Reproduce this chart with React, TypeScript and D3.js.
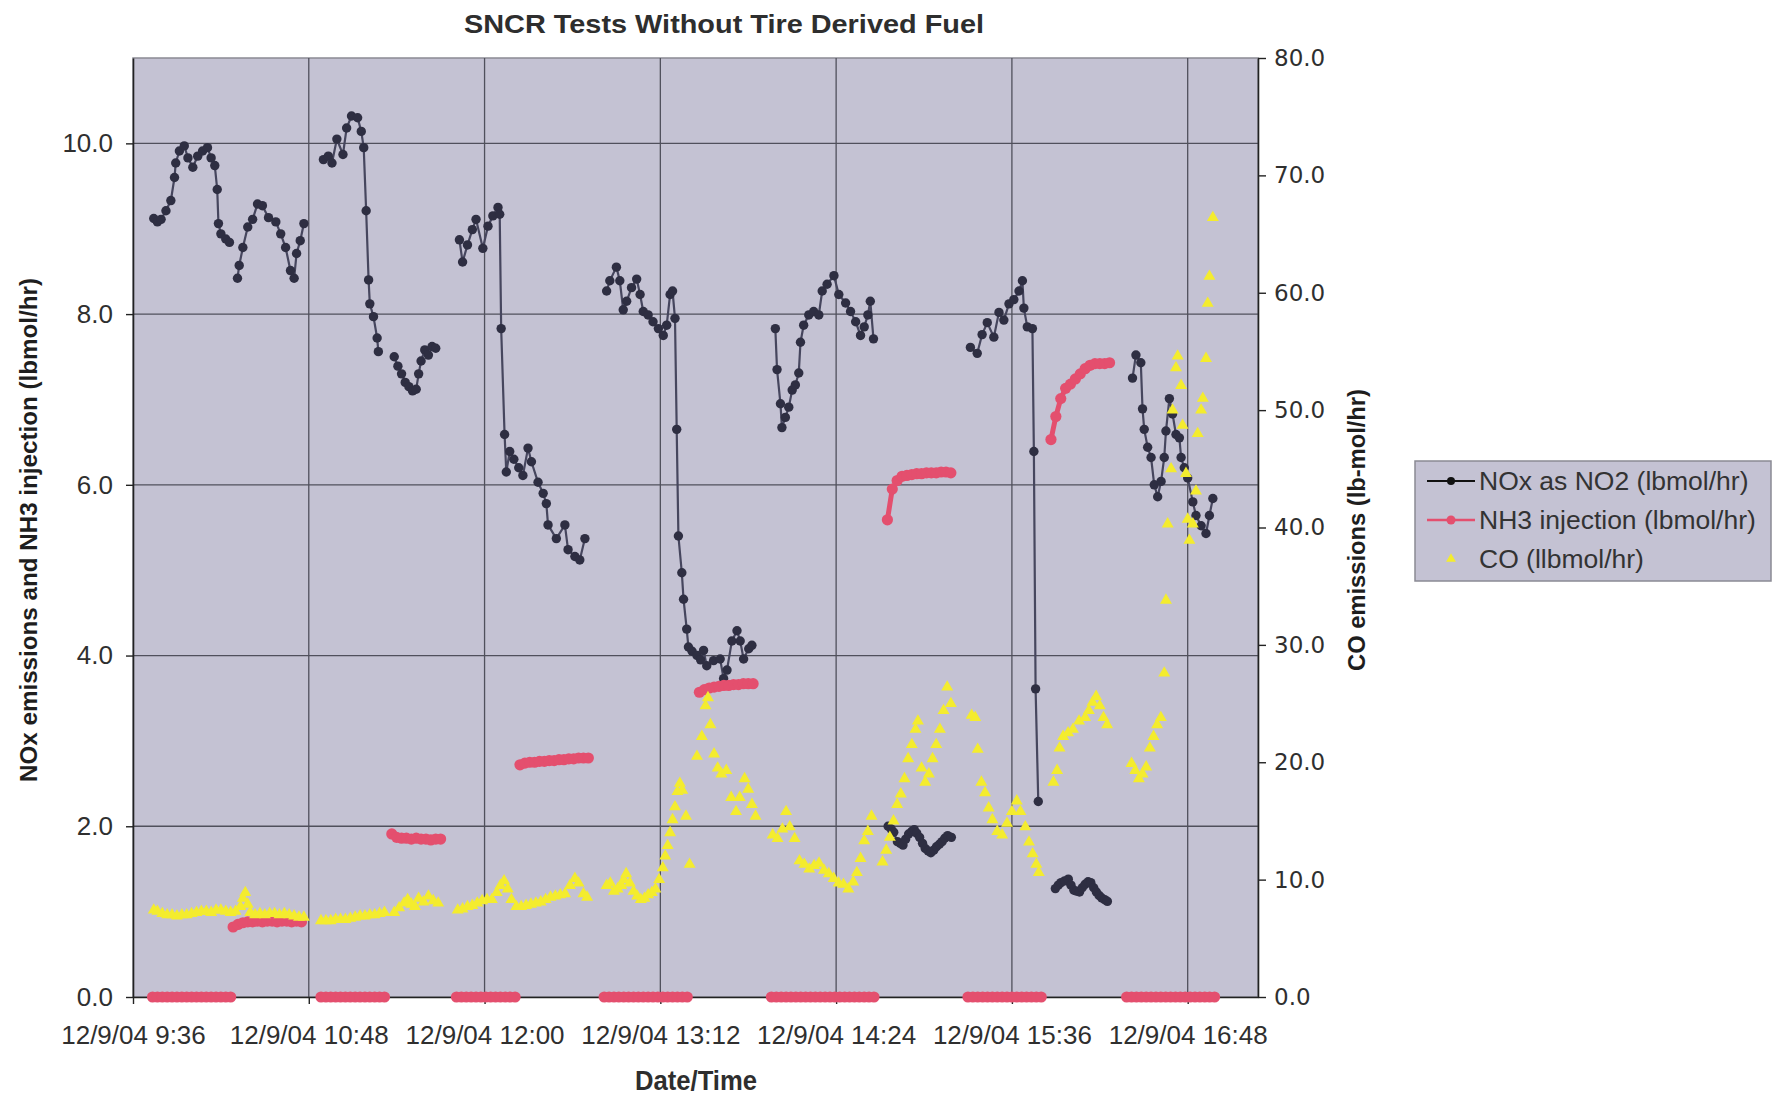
import React, { useEffect, useRef } from "react";
import * as d3 from "d3";

// time is in minutes after 12/9/04 9:36
const xTickMinutes = [0, 72, 144, 216, 288, 360, 432];
const xTickLabels = [
  "12/9/04 9:36",
  "12/9/04 10:48",
  "12/9/04 12:00",
  "12/9/04 13:12",
  "12/9/04 14:24",
  "12/9/04 15:36",
  "12/9/04 16:48",
];
const leftTicks = [0, 2, 4, 6, 8, 10];
const rightTicks = [0, 10, 20, 30, 40, 50, 60, 70, 80];

// NOx as NO2 (lbmol/hr), one array per continuous run
const nox1 = [[8.5, 9.12], [10, 9.08], [11.5, 9.11], [13.5, 9.21], [15.5, 9.33], [17, 9.6], [17.5, 9.77], [19, 9.91], [21, 9.97], [22.5, 9.83], [24.5, 9.72], [26.5, 9.85], [28.5, 9.91], [30.5, 9.95], [32, 9.83], [33.5, 9.74], [34.5, 9.46], [35, 9.06], [36, 8.94], [38, 8.88], [39.5, 8.84]];
const nox2 = [[42.8, 8.42], [43.5, 8.57], [45, 8.78], [47, 9.02], [49, 9.11], [51, 9.29], [53, 9.27], [55.5, 9.13], [58.5, 9.08], [60.5, 8.94], [62.5, 8.78], [64.5, 8.51], [66, 8.42], [67, 8.71], [68.5, 8.86], [70, 9.06]];
const nox3 = [[78, 9.81], [80, 9.85], [81.5, 9.77], [83.5, 10.05], [86, 9.87], [87.5, 10.18], [89.5, 10.32], [92, 10.3], [93.5, 10.14], [94.5, 9.95], [95.5, 9.21], [96.5, 8.4], [97, 8.12], [98.5, 7.97], [100, 7.72], [100.5, 7.56]];
const nox4 = [[107, 7.5], [108.5, 7.39], [110, 7.3], [111.5, 7.2], [113, 7.15], [114.5, 7.1], [116, 7.12], [117, 7.3], [118, 7.45], [119.5, 7.58], [121, 7.52], [122.5, 7.62], [124, 7.6]];
const nox5 = [[133.7, 8.87], [135, 8.61], [137, 8.81], [139, 8.99], [140.5, 9.11], [143.3, 8.77], [145.4, 9.03], [147.4, 9.15], [149.5, 9.25], [150.2, 9.17], [150.8, 7.83], [152.2, 6.59], [152.9, 6.15], [154.3, 6.39], [156, 6.3], [158, 6.2], [159.7, 6.11], [161.8, 6.43], [163.2, 6.27], [165.9, 6.03], [168, 5.9], [169.3, 5.78], [170, 5.53], [173.4, 5.37], [176.9, 5.53], [178.2, 5.24], [181, 5.16], [183, 5.12], [185.1, 5.37]];
const nox6 = [[194, 8.27], [195.3, 8.39], [198, 8.55], [199.4, 8.39], [200.8, 8.05], [202.2, 8.15], [204.2, 8.31], [206.3, 8.41], [207.7, 8.23], [209, 8.03], [211, 7.99], [213, 7.91], [215.2, 7.83], [217.2, 7.75], [218.6, 7.87], [220, 8.23], [221, 8.27], [222, 7.95], [222.7, 6.65], [223.4, 5.4], [224.8, 4.97], [225.5, 4.66], [226.8, 4.31], [227.5, 4.1], [229, 4.05], [231, 4.0], [232.5, 3.95], [233.7, 4.06], [235, 3.88], [237.8, 3.94], [240.5, 3.96], [241.9, 3.73], [243.3, 3.83], [245.3, 4.17], [247.4, 4.29], [248.7, 4.17], [250.1, 3.96], [252.2, 4.08], [253.5, 4.12]];
const nox7 = [[263.1, 7.83], [263.8, 7.35], [265.2, 6.95], [265.8, 6.67], [267.2, 6.79], [268.6, 6.91], [270, 7.11], [271.3, 7.17], [272.7, 7.31], [273.4, 7.67], [274.7, 7.87], [276.8, 7.99], [278.8, 8.03], [280.9, 7.99], [282.3, 8.27], [284.3, 8.35], [287.1, 8.45], [289.1, 8.23], [291.9, 8.13], [293.9, 8.03], [296, 7.91], [298, 7.75], [299.5, 7.85], [301, 7.99], [302, 8.15], [303.3, 7.71]];
const nox8 = [[309.3, 2.0], [310.5, 1.97], [311.6, 1.93], [313.1, 1.82], [314.3, 1.8], [315.4, 1.78], [316.5, 1.85], [317.7, 1.91], [319, 1.94], [320, 1.96], [321, 1.92], [322.2, 1.87], [323.4, 1.8], [324.5, 1.74], [325.7, 1.71], [326.8, 1.69], [328, 1.72], [329.1, 1.76], [330.3, 1.79], [331.4, 1.82], [332.5, 1.86], [333.7, 1.89], [335.2, 1.87]];
const nox9 = [[343, 7.61], [345.8, 7.54], [347.8, 7.76], [349.9, 7.9], [352.6, 7.73], [354.7, 8.02], [356.7, 7.93], [358.8, 8.12], [360.8, 8.17], [362.9, 8.27], [364.3, 8.39], [364.9, 8.07], [366.3, 7.85], [368.4, 7.83], [369, 6.39], [369.7, 3.61], [370.8, 2.29]];
const nox10 = [[377.8, 1.27], [379, 1.31], [380.1, 1.34], [381.6, 1.36], [383.1, 1.38], [384.2, 1.31], [385.4, 1.25], [386.5, 1.24], [387.7, 1.23], [388.8, 1.28], [390, 1.32], [391.2, 1.35], [392.3, 1.34], [393.5, 1.28], [394.6, 1.23], [395.7, 1.19], [396.8, 1.16], [398, 1.14], [399.1, 1.12]];
const nox11 = [[409.4, 7.25], [410.8, 7.52], [412.8, 7.43], [413.5, 6.89], [414.2, 6.65], [415.6, 6.44], [417, 6.32], [418.3, 6.0], [419.7, 5.86], [421.1, 6.04], [422.4, 6.32], [423.1, 6.63], [424.5, 7.01], [425.8, 6.83], [427.2, 6.59], [428.6, 6.55], [429.3, 6.32], [430.6, 6.2], [432, 6.08], [434.1, 5.8], [435.4, 5.64], [437.5, 5.52], [439.5, 5.43], [440.9, 5.64], [442.3, 5.84]];
const noxRuns = [nox1, nox2, nox3, nox4, nox5, nox6, nox7, nox8, nox9, nox10, nox11];

// NH3 injection (lbmol/hr): sampled every 2 minutes from each run's start
const nh3Starts = [8, 41, 77, 106, 132.5, 158.5, 193, 232, 261.5, 309, 342, 376, 407];
const nh3Values = [
  [0, 0, 0, 0, 0, 0, 0, 0, 0, 0, 0, 0, 0, 0, 0, 0, 0],
  [0.82, 0.85, 0.87, 0.88, 0.88, 0.89, 0.88, 0.89, 0.89, 0.88, 0.89, 0.89, 0.88, 0.89, 0.88],
  [0, 0, 0, 0, 0, 0, 0, 0, 0, 0, 0, 0, 0, 0],
  [1.91, 1.87, 1.86, 1.86, 1.85, 1.86, 1.85, 1.85, 1.84, 1.85, 1.85],
  [0, 0, 0, 0, 0, 0, 0, 0, 0, 0, 0, 0, 0],
  [2.72, 2.74, 2.75, 2.75, 2.76, 2.76, 2.77, 2.77, 2.78, 2.78, 2.79, 2.79, 2.8, 2.8, 2.8],
  [0, 0, 0, 0, 0, 0, 0, 0, 0, 0, 0, 0, 0, 0, 0, 0, 0, 0],
  [3.57, 3.6, 3.62, 3.63, 3.64, 3.65, 3.65, 3.66, 3.66, 3.67, 3.67, 3.67],
  [0, 0, 0, 0, 0, 0, 0, 0, 0, 0, 0, 0, 0, 0, 0, 0, 0, 0, 0, 0, 0, 0],
  [5.59, 5.95, 6.05, 6.1, 6.11, 6.12, 6.13, 6.13, 6.14, 6.14, 6.14, 6.15, 6.15, 6.14],
  [0, 0, 0, 0, 0, 0, 0, 0, 0, 0, 0, 0, 0, 0, 0, 0],
  [6.53, 6.8, 7.01, 7.13, 7.18, 7.24, 7.3, 7.36, 7.4, 7.42, 7.42, 7.42, 7.43],
  [0, 0, 0, 0, 0, 0, 0, 0, 0, 0, 0, 0, 0, 0, 0, 0, 0, 0, 0],
];
const NH3_STEP = 2;

// CO (lbmol/hr), right axis
const co1 = [[8.5, 7.4], [10, 7.3], [12, 7.1], [14, 7.0], [16, 7.0], [18, 6.9], [20, 7.0], [22, 7.0], [24, 7.1], [26, 7.2], [28, 7.3], [30, 7.3], [32, 7.2], [34, 7.4], [36, 7.4], [38, 7.3], [40, 7.2], [42, 7.3], [44, 7.7], [45, 8.4], [46, 8.9], [47, 7.9], [48, 7.2], [50, 7.0], [52, 7.1], [54, 7.0], [56, 7.1], [58, 7.1], [60, 7.0], [62, 7.1], [64, 7.0], [66, 6.9], [68, 6.8], [70, 6.8]];
const co2 = [[77, 6.5], [79, 6.5], [81, 6.5], [83, 6.6], [85, 6.6], [87, 6.6], [89, 6.7], [91, 6.8], [93, 6.9], [95, 6.9], [97, 7.0], [99, 7.0], [101, 7.1], [103, 7.2], [107, 7.2], [109, 7.6], [111, 8.0], [112.5, 8.3], [114, 7.9], [115.5, 7.7], [117, 8.4], [119, 8.1], [121, 8.6], [123, 8.2], [125, 8.0]];
const co3 = [[133, 7.4], [135, 7.5], [137, 7.7], [139, 7.8], [141, 8.0], [143, 8.2], [145, 8.3], [147, 8.3], [149, 8.9], [150.5, 9.5], [152, 9.9], [153.5, 9.2], [155, 8.3], [157, 7.7], [159, 7.7], [161, 7.8], [163, 7.9], [165, 8.0], [167, 8.1], [169, 8.3], [171, 8.5], [173, 8.6], [175, 8.7], [177, 8.8], [179, 9.5], [181, 10.1], [182.5, 9.7], [184.5, 8.8], [186, 8.5]];
const co4 = [[194, 9.5], [195.5, 9.7], [197, 9.0], [198.5, 9.2], [200, 9.5], [201, 10.0], [202, 10.5], [203.5, 9.7], [205, 9.0], [206.5, 8.6], [208, 8.3], [209.5, 8.4], [211, 8.7], [212.5, 8.9], [214, 9.2], [215.5, 10.0], [217, 11.0], [218, 12.0], [219, 12.9], [220, 14.0], [221, 15.1], [222, 16.2], [223, 17.5], [224, 18.2], [225, 17.6], [226.5, 15.4], [228, 11.3]];
const co5 = [[231, 20.5], [233, 22.2], [234.5, 24.8], [235.5, 25.5], [236.5, 23.2], [238, 20.7], [239.5, 19.5], [241, 19.0], [243, 19.3], [245, 17.0], [247, 15.8], [248.5, 17.0], [250.5, 18.6], [252, 17.7], [253.5, 16.4], [255, 15.4]];
const co6 = [[262, 13.8], [264, 13.5], [266, 14.3], [267.5, 15.8], [269, 14.5], [271, 13.5], [273, 11.6], [275, 11.3], [277, 10.9], [279, 11.2], [281, 11.4], [283, 10.8], [285, 10.5], [287, 10.1], [289, 9.7], [291, 9.6], [293, 9.2], [295, 9.8], [296.5, 10.6], [298, 11.8], [299.5, 13.3], [301, 14.1], [302.5, 15.4]];
const co7 = [[307, 11.5], [308.5, 12.5], [310, 13.6], [311.5, 15.0], [313, 16.4], [314.5, 17.3], [316, 18.6], [317.5, 20.3], [319, 21.5], [320.5, 22.8], [321.5, 23.5], [323, 19.5], [324.5, 18.3], [326, 19.0], [327.5, 20.3], [329, 21.5], [330.5, 22.8], [332, 24.4], [333.5, 26.4], [335, 25.0]];
const co8 = [[343.5, 24.0], [345, 23.8], [346, 21.1], [347.5, 18.3], [349, 17.4], [350.5, 16.1], [352, 15.1], [354, 14.1], [356, 13.8], [358, 14.8], [360, 15.8], [362, 16.7], [363.5, 15.8], [365.5, 14.5], [367, 13.2], [368.5, 12.2], [370, 11.3], [371, 10.6]];
const co9 = [[377, 18.3], [378.5, 19.3], [379.5, 21.2], [381, 22.2], [383, 22.5], [385, 22.8], [387.5, 23.5], [390, 23.8], [391.5, 24.4], [393, 25.1], [394.5, 25.6], [396, 24.8], [397.5, 23.8], [399, 23.2]];
const co10 = [[409, 19.9], [410.5, 19.3], [412, 18.6], [413.5, 19.0], [415, 19.6], [416.5, 21.2], [418, 22.2], [419.5, 23.2], [421, 23.8], [422.4, 27.6], [423.1, 33.8], [423.8, 40.3], [425.2, 45], [425.8, 50], [427.2, 53.6], [427.9, 54.6], [429.3, 52.1], [429.9, 48.7], [431.3, 44.6], [432, 40.7], [432.7, 38.9], [434.1, 40.3], [435.4, 43.1], [436.1, 48], [437.5, 50], [438.2, 51], [439.5, 54.4], [440.2, 59.1], [440.9, 61.4], [442.3, 66.4]];
const coPoints = [...co1, ...co2, ...co3, ...co4, ...co5, ...co6, ...co7, ...co8, ...co9, ...co10];

const legendLabels = ["NOx as NO2 (lbmol/hr)", "NH3 injection (lbmol/hr)", "CO (llbmol/hr)"];

const W = 1778;
const H = 1095;
const PLOT = { left: 133, right: 1258, top: 58, bottom: 997 };
const BG = "#c4c2d3";
const NOX_LINE = "#46465e";
const NOX_DOT = "#2e2e42";
const NH3 = "#e44f6e";
const CO = "#f4ec2e";
const SANS = "'Liberation Sans', Arial, sans-serif";
const WIDE = "'DejaVu Sans', Verdana, sans-serif";

export default function App() {
  const svgRef = useRef<SVGSVGElement>(null);

  useEffect(() => {
    const svg = d3.select(svgRef.current);
    svg.selectAll("*").remove();

    const plotW = PLOT.right - PLOT.left;
    const plotH = PLOT.bottom - PLOT.top;
    const x = d3.scaleLinear().domain([0, 460.8]).range([PLOT.left, PLOT.right]);
    const yL = d3.scaleLinear().domain([0, 11]).range([PLOT.bottom, PLOT.top]);
    const yR = d3.scaleLinear().domain([0, 80]).range([PLOT.bottom, PLOT.top]);

    svg.append("rect").attr("width", W).attr("height", H).attr("fill", "#fff");
    svg
      .append("rect")
      .attr("x", PLOT.left)
      .attr("y", PLOT.top)
      .attr("width", plotW)
      .attr("height", plotH)
      .attr("fill", BG)
      .attr("stroke", "#8a8a94")
      .attr("stroke-width", 1.5);

    // gridlines
    const grid = svg.append("g").attr("stroke", "#50505c").attr("stroke-width", 1.3);
    grid
      .selectAll(".gh")
      .data(leftTicks.filter((d) => d > 0))
      .join("line")
      .attr("x1", PLOT.left)
      .attr("x2", PLOT.right)
      .attr("y1", (d) => yL(d))
      .attr("y2", (d) => yL(d));
    grid
      .selectAll(".gv")
      .data(xTickMinutes.filter((d) => d > 0))
      .join("line")
      .attr("x1", (d) => x(d))
      .attr("x2", (d) => x(d))
      .attr("y1", PLOT.top)
      .attr("y2", PLOT.bottom);

    // axes
    const styleAxis = (g, family, size) => {
      g.select(".domain").attr("stroke", "#222").attr("stroke-width", 1.6);
      g.selectAll(".tick line").attr("stroke", "#222").attr("stroke-width", 1.4);
      g.selectAll("text")
        .attr("font-family", family)
        .attr("font-size", size)
        .attr("fill", "#2f2f2f");
    };

    const axL = svg
      .append("g")
      .attr("transform", `translate(${PLOT.left},0)`)
      .call(
        d3.axisLeft(yL).tickValues(leftTicks).tickFormat(d3.format(".1f")).tickSize(7).tickSizeOuter(0).tickPadding(13)
      );
    styleAxis(axL, SANS, 26);

    const axR = svg
      .append("g")
      .attr("transform", `translate(${PLOT.right},0)`)
      .call(
        d3.axisRight(yR).tickValues(rightTicks).tickFormat(d3.format(".1f")).tickSize(8).tickSizeOuter(0).tickPadding(8)
      );
    styleAxis(axR, WIDE, 23);

    const axB = svg
      .append("g")
      .attr("transform", `translate(0,${PLOT.bottom})`)
      .call(
        d3
          .axisBottom(x)
          .tickValues(xTickMinutes)
          .tickFormat((d, i) => xTickLabels[i])
          .tickSize(7)
          .tickSizeOuter(0)
          .tickPadding(22)
      );
    styleAxis(axB, SANS, 26);

    // NOx series
    const lineL = d3
      .line()
      .x((d) => x(d[0]))
      .y((d) => yL(d[1]));
    const noxG = svg.append("g");
    noxRuns.forEach((run) => {
      noxG
        .append("path")
        .attr("d", lineL(run))
        .attr("fill", "none")
        .attr("stroke", NOX_LINE)
        .attr("stroke-width", 2.2);
      noxG
        .selectAll(null)
        .data(run)
        .join("circle")
        .attr("cx", (d) => x(d[0]))
        .attr("cy", (d) => yL(d[1]))
        .attr("r", 4.7)
        .attr("fill", NOX_DOT);
    });

    // NH3 series
    const nh3G = svg.append("g");
    nh3Values.forEach((vals, k) => {
      const run = vals.map((v, i) => [nh3Starts[k] + i * NH3_STEP, v]);
      nh3G
        .append("path")
        .attr("d", lineL(run))
        .attr("fill", "none")
        .attr("stroke", NH3)
        .attr("stroke-width", 5);
      nh3G
        .selectAll(null)
        .data(run)
        .join("circle")
        .attr("cx", (d) => x(d[0]))
        .attr("cy", (d) => yL(d[1]))
        .attr("r", 5.6)
        .attr("fill", NH3);
    });

    // CO series (triangles only)
    const tri = d3.symbol(d3.symbolTriangle, 62)();
    svg
      .append("g")
      .selectAll("path")
      .data(coPoints)
      .join("path")
      .attr("d", tri)
      .attr("transform", (d) => `translate(${x(d[0])},${yR(d[1])})`)
      .attr("fill", CO);

    // titles
    svg
      .append("text")
      .attr("x", 724)
      .attr("y", 33)
      .attr("text-anchor", "middle")
      .attr("font-family", SANS)
      .attr("font-weight", "bold")
      .attr("font-size", 26)
      .attr("textLength", 520)
      .attr("lengthAdjust", "spacingAndGlyphs")
      .attr("fill", "#2e2e2e")
      .text("SNCR Tests Without Tire Derived Fuel");

    svg
      .append("text")
      .attr("x", 696)
      .attr("y", 1090)
      .attr("text-anchor", "middle")
      .attr("font-family", SANS)
      .attr("font-weight", "bold")
      .attr("font-size", 27)
      .attr("textLength", 122)
      .attr("lengthAdjust", "spacingAndGlyphs")
      .attr("fill", "#2e2e2e")
      .text("Date/Time");

    svg
      .append("text")
      .attr("transform", `translate(37,530) rotate(-90)`)
      .attr("text-anchor", "middle")
      .attr("font-family", SANS)
      .attr("font-weight", "bold")
      .attr("font-size", 24)
      .attr("textLength", 504)
      .attr("lengthAdjust", "spacingAndGlyphs")
      .attr("fill", "#1e1e1e")
      .text("NOx emissions and NH3 injection (lbmol/hr)");

    svg
      .append("text")
      .attr("transform", `translate(1365,530) rotate(-90)`)
      .attr("text-anchor", "middle")
      .attr("font-family", SANS)
      .attr("font-weight", "bold")
      .attr("font-size", 24)
      .attr("textLength", 282)
      .attr("lengthAdjust", "spacingAndGlyphs")
      .attr("fill", "#1e1e1e")
      .text("CO emissions (lb-mol/hr)");

    // legend
    const lg = svg.append("g").attr("transform", "translate(1415,461)");
    lg.append("rect")
      .attr("width", 356)
      .attr("height", 120)
      .attr("fill", BG)
      .attr("stroke", "#8a8a94")
      .attr("stroke-width", 1.5);
    const rows = [20, 59, 98];
    legendLabels.forEach((label, i) => {
      const row = lg.append("g").attr("transform", `translate(0,${rows[i]})`);
      if (i === 0) {
        row.append("line").attr("x1", 12).attr("x2", 60).attr("stroke", "#111").attr("stroke-width", 2);
        row.append("circle").attr("cx", 36).attr("r", 4).attr("fill", "#111");
      } else if (i === 1) {
        row.append("line").attr("x1", 12).attr("x2", 60).attr("stroke", NH3).attr("stroke-width", 2.5);
        row.append("circle").attr("cx", 36).attr("r", 4.5).attr("fill", NH3);
      } else {
        row.append("path").attr("d", d3.symbol(d3.symbolTriangle, 42)()).attr("transform", "translate(36,0)").attr("fill", CO);
      }
      row
        .append("text")
        .attr("x", 64)
        .attr("y", 9)
        .attr("font-family", SANS)
        .attr("font-size", 26.5)
        .attr("fill", "#333")
        .text(label);
    });
  }, []);

  return (
    <svg
      ref={svgRef}
      width={W}
      height={H}
      style={{ position: "absolute", left: 0, top: 0, display: "block" }}
    />
  );
}
